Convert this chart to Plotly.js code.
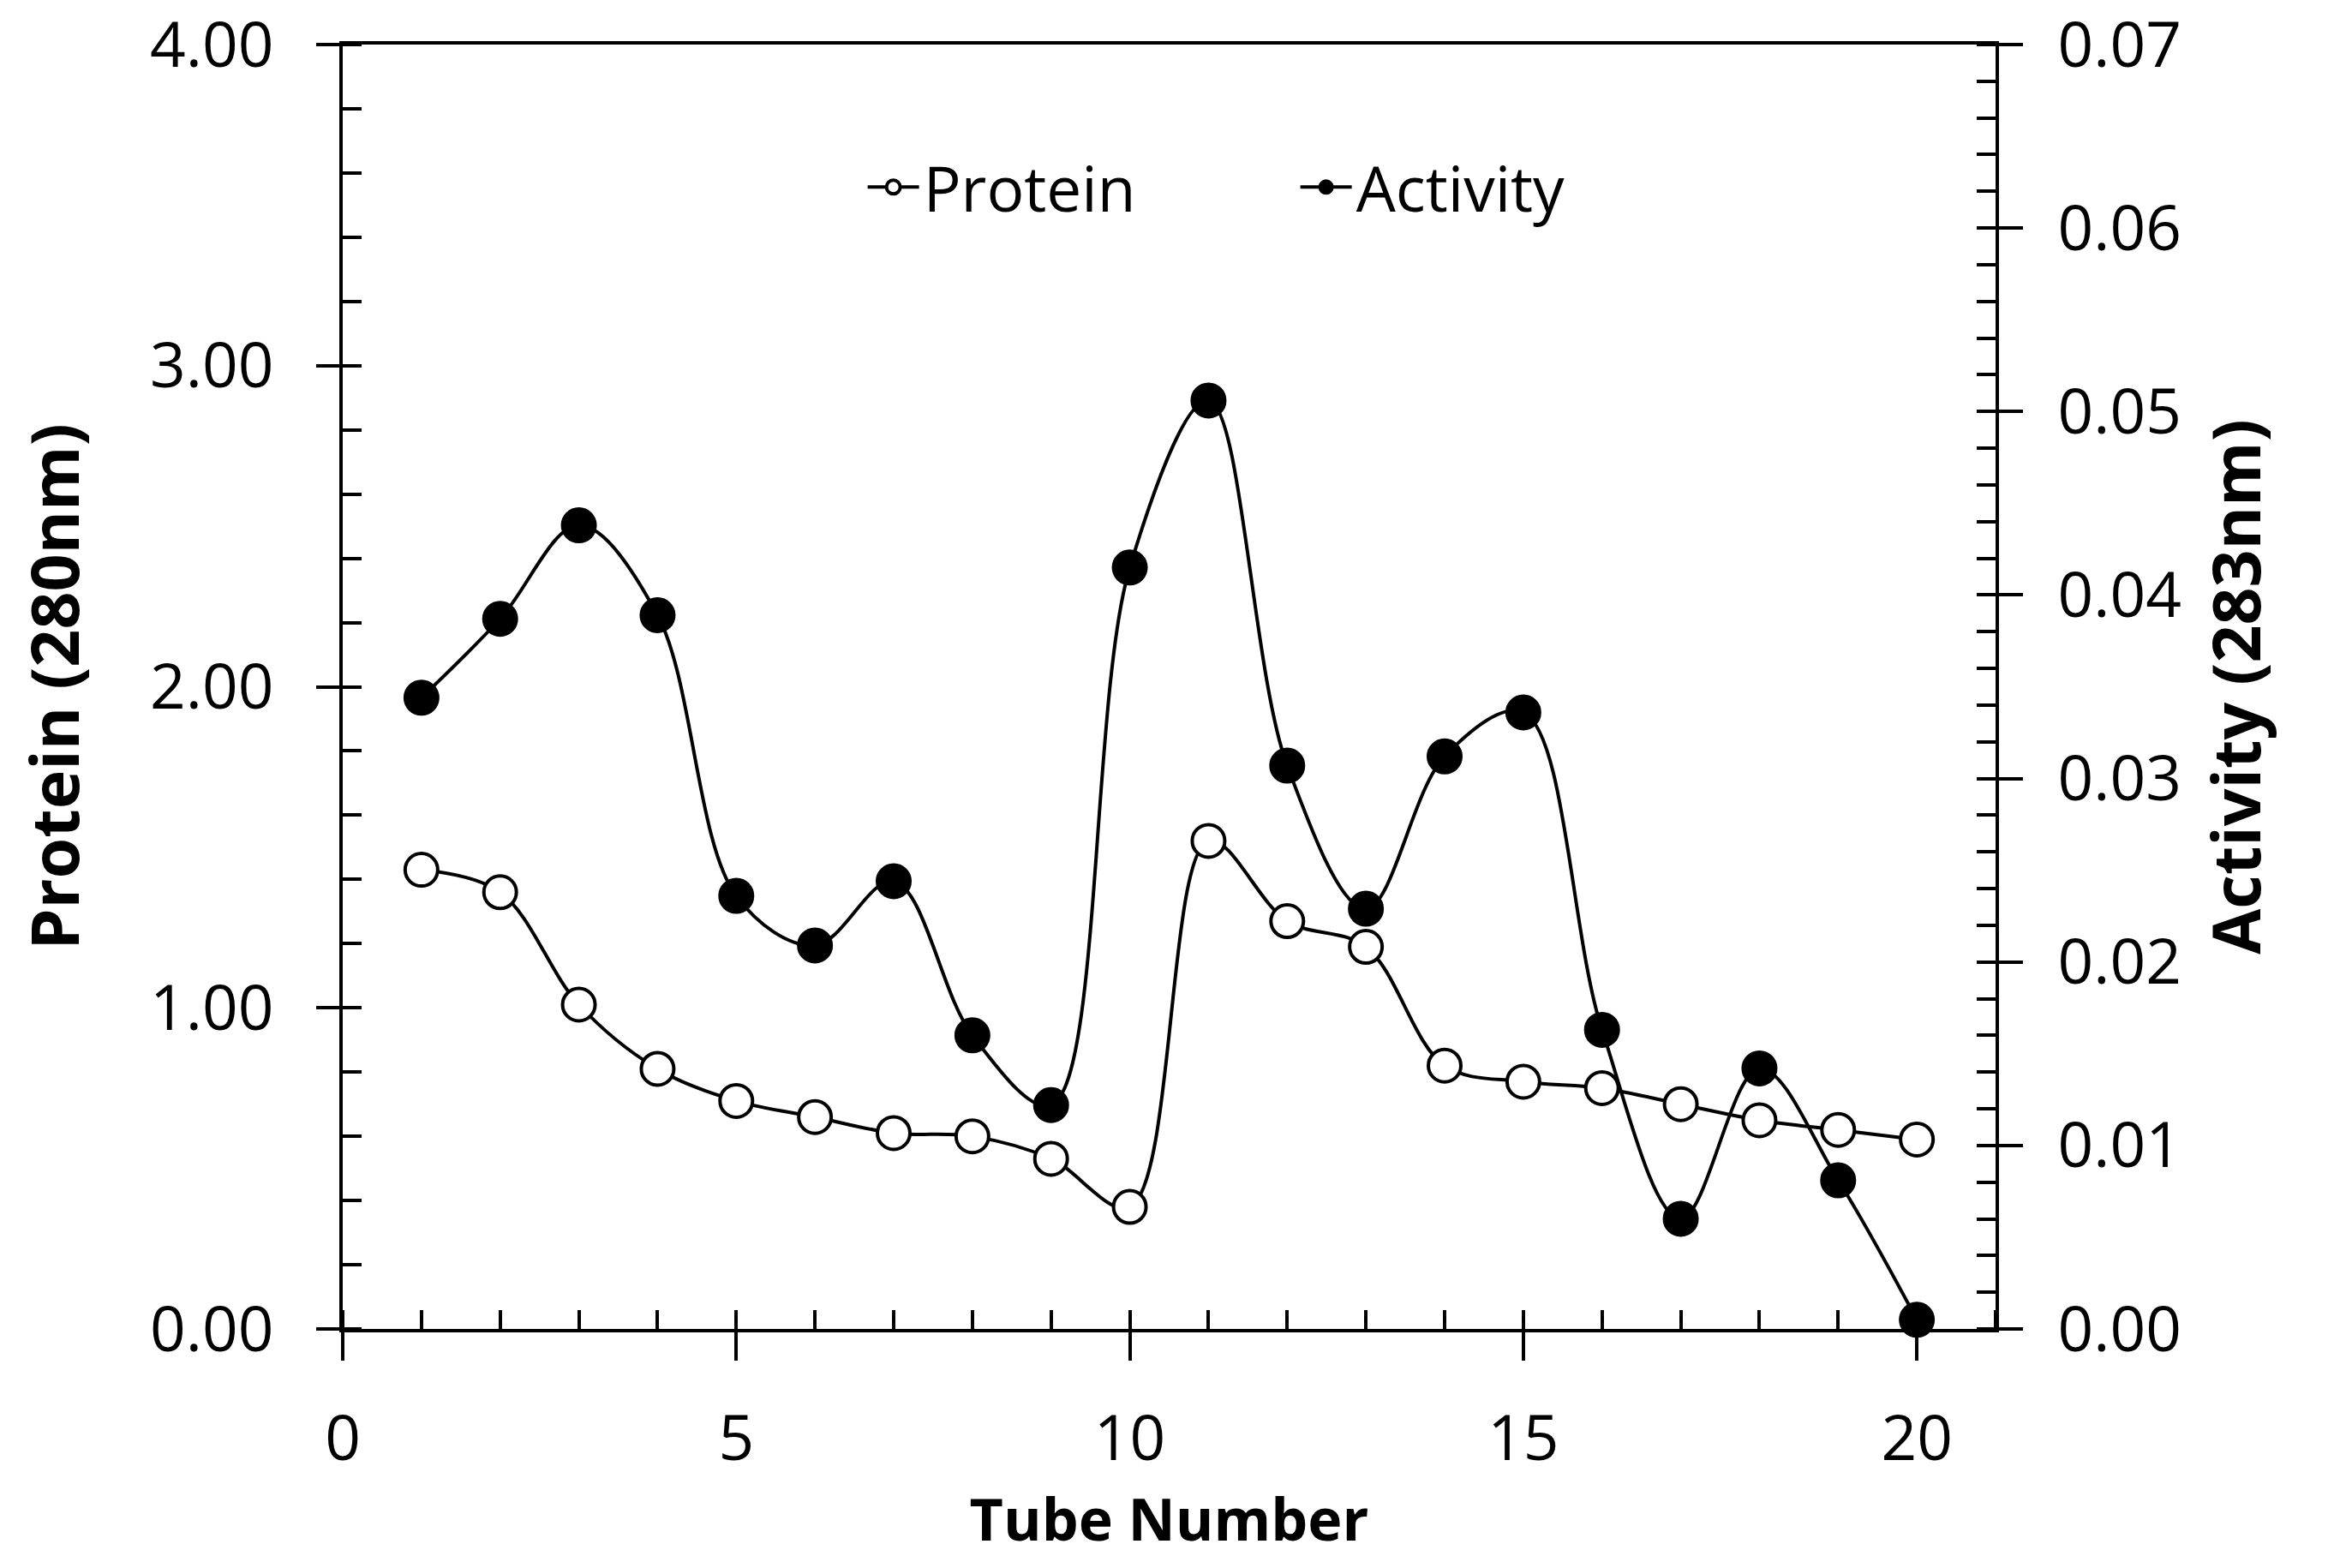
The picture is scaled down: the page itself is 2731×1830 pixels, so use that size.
<!DOCTYPE html>
<html>
<head>
<meta charset="utf-8">
<script src="https://cdn.plot.ly/plotly-3.0.1.min.js"></script>
<style>
  html, body { margin: 0; padding: 0; background: #ffffff; }
  #chart { width: 2731px; height: 1830px; }
</style>
</head>
<body>
<div id="chart"></div>
<script>
// ---- Data ----
const tubes = [1, 2, 3, 4, 5, 6, 7, 8, 9, 10, 11, 12, 13, 14, 15, 16, 17, 18, 19, 20];
const protein = [1.43, 1.36, 1.01, 0.81, 0.71, 0.66, 0.61, 0.60, 0.53, 0.38,
                 1.52, 1.27, 1.19, 0.82, 0.77, 0.75, 0.70, 0.65, 0.62, 0.59];
const activity = [0.0344, 0.0387, 0.0438, 0.0389, 0.0236, 0.0209, 0.0244, 0.0160, 0.0122, 0.0415,
                  0.0506, 0.0307, 0.0229, 0.0312, 0.0336, 0.0163, 0.0060, 0.0142, 0.0081, 0.0005];
const seriesNames = ['Protein', 'Activity'];
const xTitle = 'Tube Number';
const yLeftTitle = 'Protein (280nm)';
const yRightTitle = 'Activity (283nm)';

const FONT = '"Open Sans", "Noto Sans", sans-serif';
const tickFont = { family: FONT, size: 73, color: '#000000' };
const xTitleFont = { family: FONT, size: 68, color: '#000000', weight: 'bold' };
const yTitleFont = { family: FONT, size: 77, color: '#000000', weight: 'bold' };

const traces = [
  {
    x: tubes, y: protein, name: seriesNames[0], type: 'scatter', mode: 'lines+markers',
    xaxis: 'x', yaxis: 'y',
    line: { color: '#000000', width: 4, shape: 'spline', smoothing: 1 },
    marker: { symbol: 'circle', size: 38, color: '#ffffff', line: { color: '#000000', width: 4 } },
    cliponaxis: false
  },
  {
    x: tubes, y: activity, name: seriesNames[1], type: 'scatter', mode: 'lines+markers',
    xaxis: 'x', yaxis: 'y2',
    line: { color: '#000000', width: 4, shape: 'spline', smoothing: 1 },
    marker: { symbol: 'circle', size: 40, color: '#000000', line: { color: '#000000', width: 2 } },
    cliponaxis: false
  }
];

const common = { showgrid: false, zeroline: false, color: '#000000', ticklabeloverflow: 'allow' };

const layout = {
  width: 2731, height: 1830,
  margin: { l: 400, r: 402, t: 52, b: 279, pad: 0 },
  paper_bgcolor: '#ffffff', plot_bgcolor: '#ffffff',
  showlegend: true,
  legend: {
    orientation: 'h', x: 0.315, xanchor: 'left', y: 0.889, yanchor: 'middle',
    font: { family: FONT, size: 73, color: '#000000' },
    bgcolor: 'rgba(0,0,0,0)', itemwidth: 60, tracegroupgap: 0,
    entrywidth: 430, entrywidthmode: 'pixels'
  },
  xaxis: Object.assign({}, common, {
    range: [0, 21], tick0: 0, dtick: 5,
    ticks: 'outside', ticklen: 33, tickwidth: 4, tickcolor: '#000000',
    showline: true, linewidth: 4, linecolor: '#000000', mirror: true,
    tickfont: tickFont, ticklabelstandoff: 28,
    minor: { ticks: 'inside', dtick: 1, tick0: 0, ticklen: 22, tickwidth: 4, tickcolor: '#000000', showgrid: false },
    title: { text: xTitle, font: xTitleFont, standoff: 20 },
    automargin: false
  }),
  xaxis2: Object.assign({}, common, {
    overlaying: 'x', anchor: 'y', side: 'bottom',
    range: [0, 21], tick0: 0, dtick: 5,
    ticks: 'inside', ticklen: 22, tickwidth: 4, tickcolor: '#000000',
    showticklabels: false, showline: false
  }),
  yaxis: Object.assign({}, common, {
    range: [0, 4], tick0: 0, dtick: 1, tickformat: '.2f',
    ticks: 'outside', ticklen: 27, tickwidth: 4, tickcolor: '#000000',
    showline: true, linewidth: 4, linecolor: '#000000',
    tickfont: tickFont, ticklabelstandoff: 35,
    minor: { ticks: 'inside', dtick: 0.2, tick0: 0, ticklen: 22, tickwidth: 4, tickcolor: '#000000', showgrid: false },
    title: { text: yLeftTitle, font: yTitleFont, standoff: 58 },
    automargin: false
  }),
  yaxis2: Object.assign({}, common, {
    overlaying: 'y', side: 'right', anchor: 'x',
    range: [0, 0.07], tick0: 0, dtick: 0.01, tickformat: '.2f',
    ticks: 'outside', ticklen: 28, tickwidth: 4, tickcolor: '#000000',
    showline: true, linewidth: 4, linecolor: '#000000',
    tickfont: tickFont, ticklabelstandoff: 26,
    minor: { ticks: 'inside', dtick: 0.002, tick0: 0, ticklen: 22, tickwidth: 4, tickcolor: '#000000', showgrid: false },
    title: { text: yRightTitle, font: yTitleFont, standoff: 40 },
    automargin: false
  }),
  yaxis3: Object.assign({}, common, {
    overlaying: 'y', side: 'left', anchor: 'x',
    range: [0, 4], tick0: 0, dtick: 1,
    ticks: 'inside', ticklen: 22, tickwidth: 4, tickcolor: '#000000',
    showticklabels: false, showline: false
  }),
  yaxis4: Object.assign({}, common, {
    overlaying: 'y', side: 'right', anchor: 'x',
    range: [0, 0.07], tick0: 0, dtick: 0.01,
    ticks: 'inside', ticklen: 22, tickwidth: 4, tickcolor: '#000000',
    showticklabels: false, showline: false
  })
};

Plotly.newPlot('chart', traces, layout, { displayModeBar: false, staticPlot: true });
</script>
</body>
</html>
